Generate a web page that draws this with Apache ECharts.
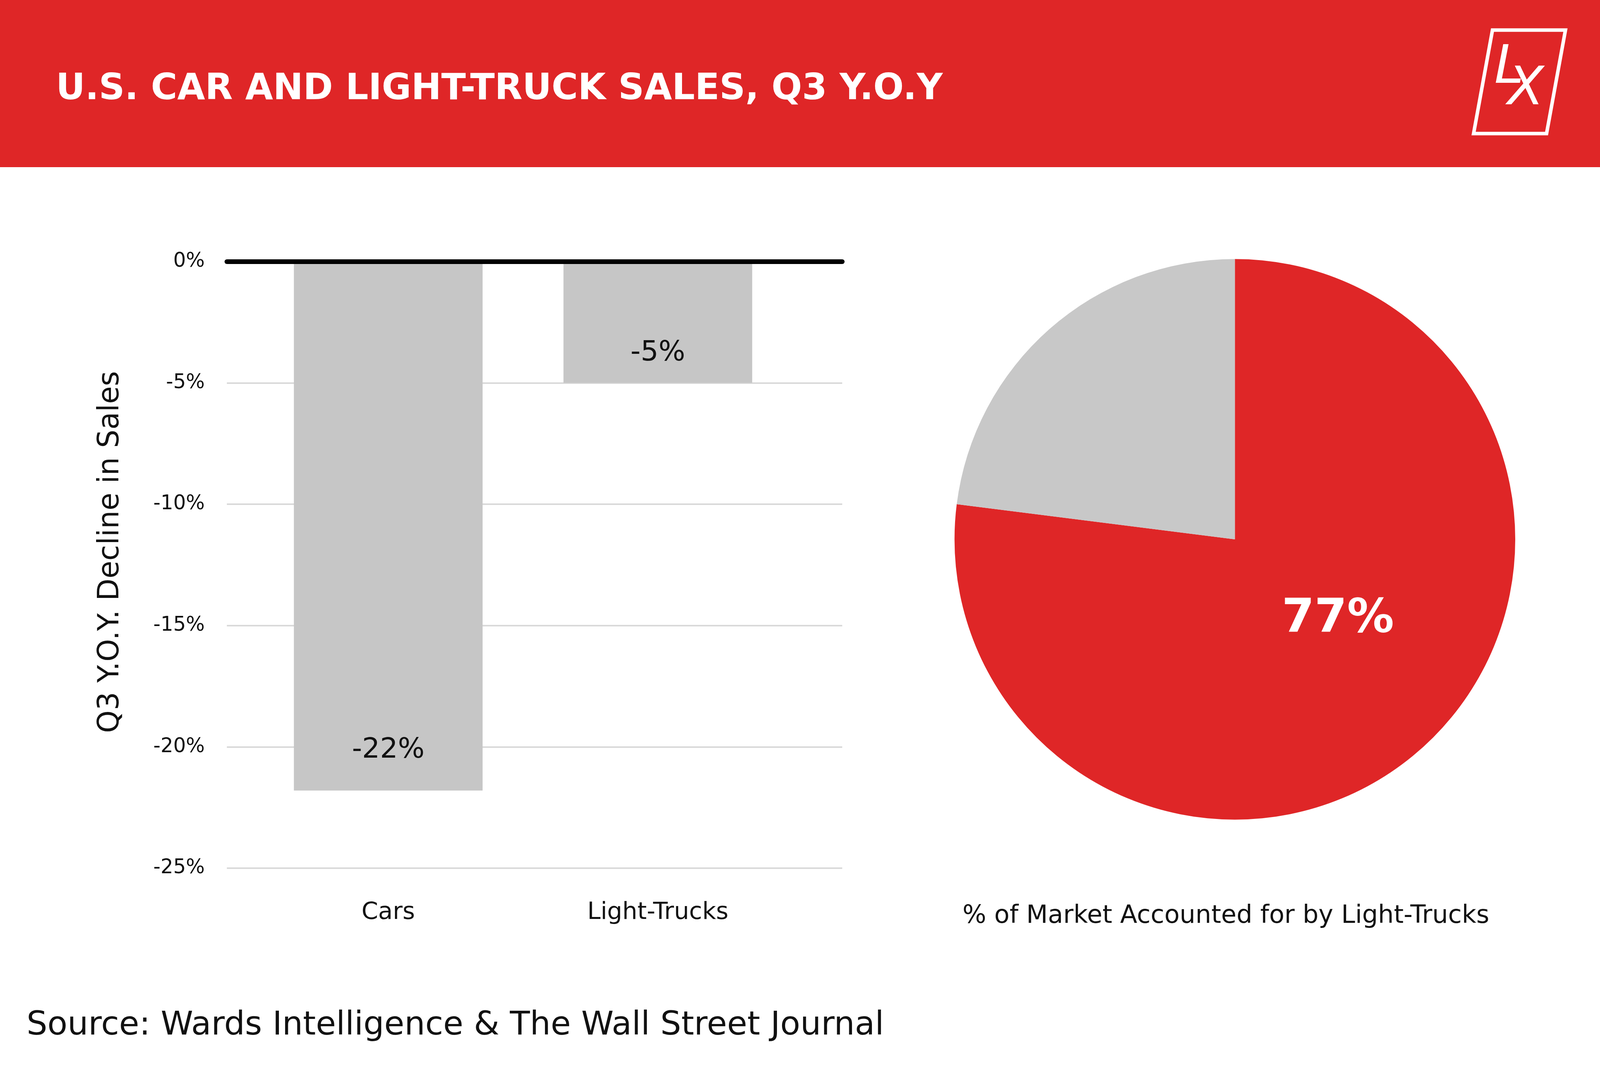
<!DOCTYPE html>
<html>
<head>
<meta charset="utf-8">
<script src="https://cdn.jsdelivr.net/npm/echarts@6/dist/echarts.min.js"></script>
<style>
  html, body { margin: 0; padding: 0; background: #fff; overflow: hidden; }
  #main { width: 100vw; height: 100vh; }
</style>
</head>
<body>
<div id="main"></div>
<script>
var categories = ['Cars', 'Light-Trucks'];
var declineValues = [-21.8, -5];
var shareNames = ['Light-Trucks', 'Cars'];
var shareValues = [77, 23];

var red = '#df2627';
var grey = '#c6c6c6';
var ink = '#111111';
var font = '"DejaVu Sans", "Open Sans", sans-serif';

var dom = document.getElementById('main');
var myChart = echarts.init(dom);

// layout was measured on a 5000 x 2727 canvas, scale it to the real window
function build() {
  var W = dom.clientWidth, H = dom.clientHeight;
  var sx = W / 5000, sy = H / 2727, sm = Math.sqrt(sx * sy);
  function X(v) { return v * sx; }
  function Y(v) { return v * sy; }
  function F(v) { return Math.round(v * sx); }

  return {
    backgroundColor: '#ffffff',
    animation: false,
    textStyle: { fontFamily: font },
    grid: [
      { left: X(709), right: X(2368), top: Y(670), bottom: Y(504), outerBoundsMode: 'none' },
      { left: X(792), right: X(2523), top: Y(670), bottom: Y(504), outerBoundsMode: 'none' }
    ],
    xAxis: [
      {
        type: 'category', gridIndex: 0, data: [''], position: 'top', z: 10,
        axisLine: { lineStyle: { color: '#000', width: Y(12) } },
        axisTick: { show: false }, axisLabel: { show: false }, splitLine: { show: false }
      },
      {
        type: 'category', gridIndex: 1, data: categories,
        axisLine: { show: false, onZero: false },
        axisTick: { show: false },
        axisLabel: { fontSize: F(75), color: ink, margin: Y(84), fontFamily: font }
      }
    ],
    yAxis: [
      {
        type: 'value', gridIndex: 0, min: -25, max: 0, interval: 5,
        axisLine: { show: false }, axisTick: { show: false },
        axisLabel: { formatter: '{value}%', fontSize: F(62), color: ink, margin: X(69), fontFamily: font },
        splitLine: { lineStyle: { color: '#d9d9d9', width: Y(4) } },
        name: 'Q3 Y.O.Y. Decline in Sales',
        nameLocation: 'middle', nameRotate: 90, nameGap: X(318),
        nameTextStyle: { fontSize: Math.round(Y(74)), color: ink, fontFamily: font, padding: [0, 0, 0, Y(66)] }
      },
      { type: 'value', gridIndex: 1, min: -25, max: 0, show: false }
    ],
    series: [
      {
        type: 'bar',
        xAxisIndex: 1, yAxisIndex: 1,
        barWidth: '70%',
        itemStyle: { color: grey },
        data: declineValues.map(function (v, i) {
          return { value: v, label: { distance: Y(i === 0 ? 67 : 40) } };
        }),
        label: {
          show: true, position: 'insideBottom', fontSize: F(88), color: ink, fontFamily: font,
          formatter: function (p) { return Math.round(p.value) + '%'; }
        }
      },
      {
        type: 'pie',
        center: [X(3859), Y(1381)],
        radius: 793 * sm,
        startAngle: 90,
        clockwise: true,
        silent: true,
        labelLine: { show: false },
        data: shareNames.map(function (n, i) {
          return {
            name: n, value: shareValues[i],
            itemStyle: { color: i === 0 ? red : '#c8c8c8' },
            label: { show: i === 0 }
          };
        }),
        label: {
          position: 'inside', formatter: '{c}%', fontSize: F(146), fontWeight: 'bold',
          color: '#fff', fontFamily: font
        },
        labelLayout: function (p) {
          return p.dataIndex === 0 ? { x: X(4181), y: Y(1587) } : {};
        }
      }
    ],
    graphic: [
      { type: 'rect', left: 0, top: 0, z: 0, shape: { width: W, height: Y(428) }, style: { fill: red } },
      {
        type: 'text', x: X(175), y: Y(230), z: 1,
        style: {
          text: 'U.S. CAR AND LIGHT-TRUCK SALES, Q3 Y.O.Y', fill: '#fff',
          font: 'bold ' + F(112) + 'px ' + font, textAlign: 'left', textVerticalAlign: 'middle'
        }
      },
      {
        type: 'polygon', z: 1,
        shape: { points: [[X(4664), Y(77)], [X(4892), Y(77)], [X(4833), Y(342)], [X(4605), Y(342)]] },
        style: { fill: 'transparent', stroke: '#fff', lineWidth: 10 * sm }
      },
      {
        type: 'text', x: X(4716), y: Y(177), z: 1,
        style: { text: 'L', fill: '#fff', font: 'italic ' + Math.round(150 * sm) + 'px ' + font, textAlign: 'center', textVerticalAlign: 'middle' }
      },
      {
        type: 'text', x: X(4768), y: Y(232), z: 1,
        style: { text: 'X', fill: '#fff', font: 'italic ' + Math.round(150 * sm) + 'px ' + font, textAlign: 'center', textVerticalAlign: 'middle' }
      },
      {
        type: 'text', x: X(3831), y: Y(2346),
        style: {
          text: '% of Market Accounted for by Light-Trucks', fill: ink,
          font: F(78) + 'px ' + font, textAlign: 'center', textVerticalAlign: 'middle'
        }
      },
      {
        type: 'text', x: X(83), y: Y(2627),
        style: {
          text: 'Source: Wards Intelligence & The Wall Street Journal', fill: ink,
          font: F(103) + 'px ' + font, textAlign: 'left', textVerticalAlign: 'middle'
        }
      }
    ]
  };
}

myChart.setOption(build());

window.addEventListener('resize', function () {
  myChart.resize();
  myChart.setOption(build(), true);
});
</script>
</body>
</html>
